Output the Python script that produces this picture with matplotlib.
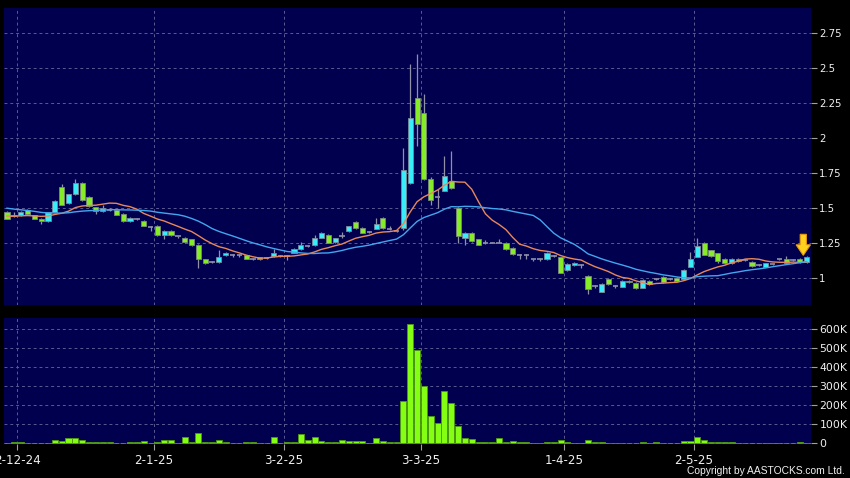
import numpy as np
import pandas as pd
import matplotlib
matplotlib.use('Agg')
import matplotlib.pyplot as plt
from matplotlib.patches import FancyArrow

# daily candles, oldest first (prices)
opens = [1.474, 1.448, 1.45, 1.49, 1.45, 1.426, 1.41, 1.475, 1.655, 1.535,
         1.60, 1.68, 1.58, 1.507, 1.48, 1.486, 1.486, 1.46, 1.41, 1.42,
         1.41, 1.368, 1.377, 1.306, 1.34, 1.30, 1.29, 1.277, 1.24, 1.135,
         1.116, 1.116, 1.168, 1.163, 1.163, 1.163, 1.14, 1.15, 1.145, 1.159,
         1.159, 1.159, 1.183, 1.206, 1.23, 1.235, 1.29, 1.31, 1.258, 1.30,
         1.336, 1.403, 1.36, 1.332, 1.353, 1.43, 1.353, 1.336, 1.36, 1.68,
         2.29, 2.18, 1.71, 1.578, 1.626, 1.692, 1.503, 1.29, 1.325, 1.277,
         1.25, 1.254, 1.254, 1.254, 1.218, 1.166, 1.166, 1.135, 1.14, 1.135,
         1.159, 1.152, 1.06, 1.092, 1.097, 1.017, 0.945, 0.905, 0.993, 0.945,
         0.94, 0.98, 0.964, 0.934, 0.98, 0.993, 1.01, 0.998, 1.005, 0.993,
         1.083, 1.154, 1.254, 1.20, 1.178, 1.14, 1.11, 1.14, 1.13, 1.116,
         1.095, 1.083, 1.10, 1.135, 1.14, 1.13, 1.14, 1.116]
highs = [1.48, 1.475, 1.48, 1.495, 1.455, 1.43, 1.475, 1.56, 1.675, 1.605,
         1.71, 1.685, 1.585, 1.51, 1.52, 1.50, 1.49, 1.465, 1.435, 1.43,
         1.415, 1.375, 1.38, 1.345, 1.345, 1.305, 1.295, 1.28, 1.245, 1.14,
         1.12, 1.20, 1.185, 1.17, 1.17, 1.165, 1.145, 1.155, 1.15, 1.21,
         1.165, 1.165, 1.215, 1.26, 1.235, 1.31, 1.33, 1.315, 1.29, 1.33,
         1.375, 1.41, 1.365, 1.34, 1.43, 1.435, 1.37, 1.345, 1.93, 2.534,
         2.60, 2.32, 1.72, 1.64, 1.875, 1.91, 1.51, 1.33, 1.33, 1.28,
         1.27, 1.26, 1.28, 1.26, 1.22, 1.17, 1.17, 1.14, 1.145, 1.19,
         1.165, 1.155, 1.11, 1.115, 1.10, 1.02, 0.95, 0.965, 1.00, 0.95,
         0.985, 0.985, 0.97, 0.995, 0.985, 1.00, 1.015, 1.005, 1.01, 1.065,
         1.19, 1.29, 1.26, 1.205, 1.18, 1.145, 1.145, 1.145, 1.135, 1.12,
         1.10, 1.11, 1.105, 1.14, 1.16, 1.135, 1.145, 1.16]
lows = [1.42, 1.435, 1.445, 1.455, 1.42, 1.39, 1.405, 1.47, 1.52, 1.53,
        1.595, 1.555, 1.51, 1.46, 1.475, 1.48, 1.45, 1.405, 1.405, 1.415,
        1.37, 1.34, 1.30, 1.28, 1.30, 1.29, 1.255, 1.23, 1.07, 1.10,
        1.11, 1.11, 1.16, 1.155, 1.155, 1.135, 1.13, 1.13, 1.14, 1.155,
        1.15, 1.13, 1.18, 1.20, 1.225, 1.23, 1.285, 1.25, 1.25, 1.29,
        1.33, 1.355, 1.32, 1.325, 1.35, 1.355, 1.345, 1.33, 1.345, 1.67,
        1.945, 1.70, 1.52, 1.50, 1.62, 1.64, 1.25, 1.24, 1.26, 1.235,
        1.245, 1.25, 1.25, 1.205, 1.165, 1.14, 1.14, 1.12, 1.12, 1.13,
        1.155, 1.035, 1.05, 1.09, 1.07, 0.89, 0.93, 0.90, 0.95, 0.93,
        0.935, 0.965, 0.925, 0.93, 0.95, 0.985, 0.965, 0.99, 0.975, 0.99,
        1.08, 1.15, 1.165, 1.155, 1.11, 1.105, 1.105, 1.115, 1.125, 1.08,
        1.09, 1.08, 1.095, 1.13, 1.105, 1.125, 1.11, 1.11]
closes = [1.424, 1.448, 1.476, 1.46, 1.426, 1.41, 1.47, 1.555, 1.525, 1.60,
          1.68, 1.56, 1.515, 1.48, 1.50, 1.486, 1.455, 1.41, 1.43, 1.42,
          1.377, 1.368, 1.306, 1.34, 1.306, 1.30, 1.258, 1.235, 1.135, 1.107,
          1.116, 1.154, 1.183, 1.163, 1.163, 1.14, 1.14, 1.135, 1.145, 1.183,
          1.159, 1.159, 1.21, 1.235, 1.23, 1.285, 1.325, 1.254, 1.287, 1.30,
          1.372, 1.36, 1.325, 1.332, 1.389, 1.36, 1.353, 1.336, 1.77, 2.147,
          2.10, 1.71, 1.56, 1.578, 1.73, 1.645, 1.30, 1.325, 1.265, 1.24,
          1.25, 1.254, 1.254, 1.211, 1.17, 1.166, 1.166, 1.135, 1.14, 1.183,
          1.159, 1.04, 1.105, 1.11, 1.097, 0.92, 0.945, 0.962, 0.957, 0.945,
          0.98, 0.97, 0.931, 0.988, 0.957, 0.993, 0.97, 0.998, 0.98, 1.06,
          1.135, 1.23, 1.168, 1.159, 1.12, 1.11, 1.14, 1.12, 1.13, 1.087,
          1.095, 1.107, 1.10, 1.135, 1.11, 1.13, 1.116, 1.154]
# volume in thousands of shares
volumes = [2, 5, 5, 2, 2, 2, 3, 17, 14, 30,
           30, 17, 5, 4, 4, 4, 2, 3, 4, 6,
           10, 2, 6, 15, 17, 3, 33, 6, 52, 6,
           4, 17, 4, 2, 2, 4, 4, 2, 1, 33,
           2, 4, 5, 47, 16, 35, 10, 7, 9, 17,
           14, 10, 14, 3, 28, 14, 7, 7, 223, 623,
           491, 300, 144, 105, 275, 210, 88, 30, 21, 7,
           9, 5, 25, 5, 10, 7, 5, 2, 2, 5,
           5, 17, 5, 3, 2, 17, 7, 7, 2, 2,
           2, 2, 2, 7, 3, 5, 2, 2, 2, 14,
           14, 35, 17, 9, 7, 5, 5, 3, 2, 2,
           3, 2, 2, 2, 3, 3, 5, 3]
# closes before the first visible day, estimated from where the averages start
prior_closes = [1.58, 1.57, 1.56, 1.55, 1.56, 1.55, 1.56, 1.55, 1.54, 1.55,
                1.46, 1.45, 1.44, 1.45, 1.44, 1.45, 1.44, 1.44, 1.45]

date_pos = [1, 21, 40, 60, 81, 100]
date_labels = ['2-12-24', '2-1-25', '3-2-25', '3-3-25', '1-4-25', '2-5-25']
price_ticks = [1, 1.25, 1.5, 1.75, 2, 2.25, 2.5, 2.75]
price_labels = ['1', '1.25', '1.5', '1.75', '2', '2.25', '2.5', '2.75']
vol_ticks = [0, 100, 200, 300, 400, 500, 600]
vol_labels = ['0', '100K', '200K', '300K', '400K', '500K', '600K']

BG = '#00004e'
GRID = '#5a5a92'
UP = '#38ecf8'
DOWN = '#86ec28'
WICK = '#9090a8'
TXT = '#f0f0f0'

o = np.array(opens)
h = np.array(highs)
l = np.array(lows)
c = np.array(closes)
x = np.arange(len(c))

allClose = pd.Series(prior_closes + closes)
ma10 = allClose.rolling(10).mean().values[len(prior_closes):]
ma20 = allClose.rolling(20).mean().values[len(prior_closes):]

fig = plt.figure(figsize=(8.5, 4.78), dpi=100, facecolor='black')
ax = fig.add_axes([3.5 / 850, 173 / 478, 807.5 / 850, 297 / 478])
axv = fig.add_axes([3.5 / 850, 34 / 478, 807.5 / 850, 126 / 478], sharex=ax)

for a in (ax, axv):
    a.set_facecolor(BG)
    for s in a.spines.values():
        s.set_visible(False)
    a.yaxis.tick_right()
    a.tick_params(axis='y', colors='#a0a0a0', labelcolor=TXT, length=4, width=0.8, pad=2)
    a.tick_params(axis='x', colors='#a0a0a0', labelcolor=TXT, length=4, width=0.8, pad=3)
    a.grid(True, color=GRID, linestyle=(0, (3, 3)), linewidth=0.7)
    a.set_axisbelow(True)

# candles
up = c > o
down = c < o
flat = c == o
ax.vlines(x, l, h, color=WICK, linewidth=0.9, zorder=2)
ax.bar(x[up], (c - o)[up], bottom=o[up], width=0.75, color=UP, edgecolor='#7a8a9a', linewidth=0.6, zorder=3)
ax.bar(x[down], (o - c)[down], bottom=c[down], width=0.75, color=DOWN, edgecolor='#7a8a7a', linewidth=0.6, zorder=3)
ax.hlines(c[flat], x[flat] - 0.4, x[flat] + 0.4, color=WICK, linewidth=1.2, zorder=3)

ax.plot(x, ma10, color='#e8885a', linewidth=1.0, zorder=4)
ax.plot(x, ma20, color='#42a6ee', linewidth=1.0, zorder=4)

# marker arrow over the latest day
ax.add_patch(FancyArrow(116.5, 1.314, 0, -0.150, width=0.9, head_width=2.1, head_length=0.075,
                        length_includes_head=True, facecolor='#ffd21e', edgecolor='#e89a10',
                        linewidth=0.8, zorder=5))

ax.set_xlim(-0.51, 117.63)
ax.set_ylim(0.809, 2.931)
ax.set_yticks(price_ticks)
ax.set_yticklabels(price_labels, fontsize=7.3)
ax.tick_params(axis='x', length=0, labelbottom=False)

axv.bar(x, volumes, width=0.88, color='#84ff14', edgecolor='#4c9a10', linewidth=0.6, zorder=3)
axv.set_ylim(-4, 657)
axv.set_yticks(vol_ticks)
axv.set_yticklabels(vol_labels, fontsize=7.8)

ticks = [p + 0.5 for p in date_pos]
axv.set_xticks(ticks)
axv.set_xticklabels(date_labels, fontsize=8.6)
ax.set_xticks(ticks)

fig.text(845 / 850, 7 / 478, 'Copyright by AASTOCKS.com Ltd.', color=TXT, fontsize=7.4,
         family='Liberation Sans', ha='right', va='center')

fig.savefig('out.png', dpi=100, facecolor='black')
